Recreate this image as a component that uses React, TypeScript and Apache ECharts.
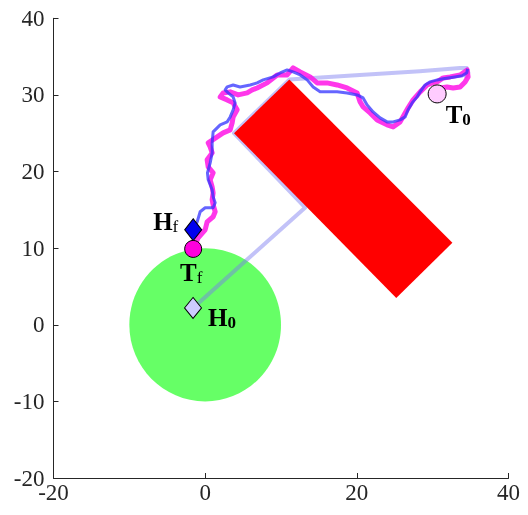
import React, { useEffect, useRef } from 'react';
import * as echarts from 'echarts';

const axisMin = -20;
const axisMax = 40;
const xTickStep = 20;
const yTickStep = 10;

const zoneCircle = [[0, 0, 10]];
const obstacleCorners = [[3.8, 25.0], [11.1, 32.0], [32.6, 10.7], [25.2, 3.5]];

const guidePath = [
  [-1.6, 2.2], [13.2, 15.3], [3.8, 25.0], [11.1, 32.0], [20.4, 32.6],
  [28.3, 33.1], [33.6, 33.5], [34.5, 33.5], [34.7, 32.9], [34.4, 32.4],
];

const handPath = [
  [-1.58, 12.4], [-1.05, 13.44], [-0.66, 14.75], [0.0, 15.27], [1.05, 15.27],
  [1.32, 15.92], [1.05, 16.7], [0.92, 17.62], [0.4, 18.92], [0.3, 19.83],
  [0.66, 21.13], [0.92, 22.44], [0.92, 23.74], [1.05, 25.18], [1.98, 26.09],
  [2.9, 26.48], [3.3, 27.13], [3.69, 28.05], [3.95, 28.96], [3.69, 29.74],
  [3.03, 30.26], [2.64, 30.65], [2.9, 31.04], [3.69, 31.3], [4.6, 31.04],
  [5.93, 31.3], [6.85, 31.57], [7.65, 31.96], [8.97, 32.35], [9.89, 32.87],
  [10.81, 33.26], [11.6, 33.0], [12.53, 32.61], [13.45, 31.96], [14.24, 31.04],
  [15.16, 30.4], [16.08, 30.4], [17.4, 30.4], [18.72, 30.26], [20.04, 30.0],
  [20.83, 29.61], [21.36, 28.7], [22.15, 27.78], [23.07, 27.0], [23.99, 26.48],
  [24.78, 26.48], [25.71, 26.74], [26.37, 27.13], [26.76, 28.05], [27.29, 28.96],
  [27.95, 29.74], [28.35, 30.4], [29.0, 31.3], [29.66, 31.7], [30.59, 31.96],
  [31.38, 32.1], [32.7, 32.3], [33.9, 32.5], [34.5, 32.9], [34.6, 33.4],
];

const targetPath = [
  [-1.58, 9.9], [-0.92, 11.36], [0.0, 12.4], [0.26, 13.44], [1.05, 14.1],
  [1.32, 14.75], [1.05, 15.66], [0.92, 16.31], [1.05, 17.22], [0.92, 18.0],
  [0.66, 18.92], [1.05, 19.83], [0.4, 20.61], [0.26, 21.53], [0.92, 22.44],
  [0.66, 23.22], [0.4, 23.74], [1.58, 24.52], [2.37, 25.05], [3.3, 25.44],
  [3.56, 26.35], [3.69, 27.13], [4.22, 28.05], [3.69, 28.96], [2.9, 29.35],
  [1.98, 29.74], [2.37, 30.26], [3.3, 30.4], [4.35, 30.0], [5.54, 30.26],
  [6.2, 30.65], [6.85, 30.91], [8.17, 31.57], [9.49, 32.61], [10.81, 32.61],
  [11.6, 33.52], [12.53, 33.0], [13.84, 32.35], [14.77, 31.57], [16.08, 31.57],
  [17.4, 31.3], [18.72, 30.91], [20.04, 30.26], [20.43, 29.09], [20.83, 28.44],
  [21.75, 27.65], [22.68, 26.74], [23.99, 26.09], [24.78, 25.83], [25.71, 26.48],
  [26.37, 27.65], [26.76, 28.31], [27.42, 29.35], [28.35, 30.4], [29.27, 31.3],
  [29.93, 31.57], [30.59, 31.7], [31.38, 32.22], [32.3, 32.35], [33.62, 32.61],
  [34.55, 33.26], [34.67, 32.35], [34.28, 31.7], [33.62, 31.04], [32.7, 30.91],
  [31.9, 31.04], [30.98, 30.91], [30.59, 30.13],
];

const handStart = [-1.6, 2.2];
const handEnd = [-1.58, 12.4];
const targetStart = [30.59, 30.13];
const targetEnd = [-1.58, 9.9];

const serif = '"Liberation Serif", "Times New Roman", serif';

const richLabel = {
  m: { fontFamily: serif, fontSize: 25, fontWeight: 'bold', color: '#000', lineHeight: 26 },
  s: { fontFamily: serif, fontSize: 17, color: '#000', lineHeight: 8, verticalAlign: 'bottom' },
  sb: { fontFamily: serif, fontSize: 17, fontWeight: 'bold', color: '#000', lineHeight: 8, verticalAlign: 'bottom' },
};

export default function App() {
  const ref = useRef<HTMLDivElement>(null);

  useEffect(() => {
    if (!ref.current) return;
    const chart = echarts.init(ref.current, undefined, { renderer: 'svg' });
    const axisCommon = {
      type: 'value',
      min: axisMin,
      max: axisMax,
      splitLine: { show: false },
      axisLine: { show: true, onZero: false, lineStyle: { color: '#262626', width: 1 } },
      axisTick: { show: true, inside: true, length: 5, lineStyle: { color: '#262626' } },
      axisLabel: { fontFamily: serif, fontSize: 23, color: '#262626' },
    };
    chart.setOption({
      animation: false,
      grid: { left: 53.5, right: 19.5, top: 18.3, bottom: 37, containLabel: false },
      xAxis: { ...axisCommon, interval: xTickStep, axisLabel: { ...axisCommon.axisLabel, margin: 3 } },
      yAxis: { ...axisCommon, interval: yTickStep, axisLabel: { ...axisCommon.axisLabel, margin: 9 } },
      series: [
        {
          type: 'custom',
          z: 1,
          clip: false,
          data: zoneCircle,
          renderItem: (params: any, api: any) => {
            const c = api.coord([api.value(0), api.value(1)]);
            const s = api.size([api.value(2), api.value(2)]);
            return {
              type: 'ellipse',
              shape: { cx: c[0], cy: c[1], rx: s[0], ry: s[1] },
              style: { fill: '#66ff66' },
            };
          },
        },
        {
          type: 'line',
          z: 2,
          data: guidePath,
          showSymbol: false,
          lineStyle: { color: 'rgba(120,120,240,0.45)', width: 4, join: 'round', cap: 'round' },
        },
        {
          type: 'custom',
          z: 3,
          clip: false,
          data: obstacleCorners,
          renderItem: (params: any, api: any) => {
            if (params.dataIndex !== 0) return null;
            const pts = obstacleCorners.map((p) => api.coord(p));
            return { type: 'polygon', shape: { points: pts }, style: { fill: '#ff0000' } };
          },
        },
        {
          type: 'line',
          z: 4,
          data: targetPath,
          showSymbol: false,
          lineStyle: { color: 'rgba(255,20,230,0.85)', width: 5, join: 'round' },
        },
        {
          type: 'line',
          z: 5,
          data: handPath,
          showSymbol: false,
          lineStyle: { color: 'rgba(50,50,255,0.75)', width: 3, join: 'round' },
        },
        {
          type: 'scatter',
          z: 6,
          data: [handStart],
          symbol: 'diamond',
          symbolSize: [17, 21],
          itemStyle: { color: '#ccccff', borderColor: '#000', borderWidth: 1, opacity: 1 },
          label: { show: true, formatter: '{m|H}{sb|0}', rich: richLabel, position: 'right', distance: 6, offset: [0, 10] },
        },
        {
          type: 'scatter',
          z: 6,
          data: [handEnd],
          symbol: 'diamond',
          symbolSize: [17, 22],
          itemStyle: { color: '#0000ee', borderColor: '#000', borderWidth: 1, opacity: 1 },
          label: { show: true, formatter: '{m|H}{s|f}', rich: richLabel, position: 'left', distance: 6, offset: [0, -8] },
        },
        {
          type: 'scatter',
          z: 6,
          data: [targetEnd],
          symbol: 'circle',
          symbolSize: 17,
          itemStyle: { color: '#ff00dd', borderColor: '#000', borderWidth: 1, opacity: 1 },
          label: { show: true, formatter: '{m|T}{s|f}', rich: richLabel, position: 'bottom', distance: 2, offset: [-2, 0] },
        },
        {
          type: 'scatter',
          z: 6,
          data: [targetStart],
          symbol: 'circle',
          symbolSize: 18,
          itemStyle: { color: '#ffccff', borderColor: '#000', borderWidth: 1, opacity: 1 },
          label: { show: true, formatter: '{m|T}{sb|0}', rich: richLabel, position: 'right', distance: -1, offset: [0, 21] },
        },
      ],
    });
    return () => chart.dispose();
  }, []);

  return <div ref={ref} style={{ position: 'fixed', left: 0, top: 0, width: 528, height: 515 }} />;
}
